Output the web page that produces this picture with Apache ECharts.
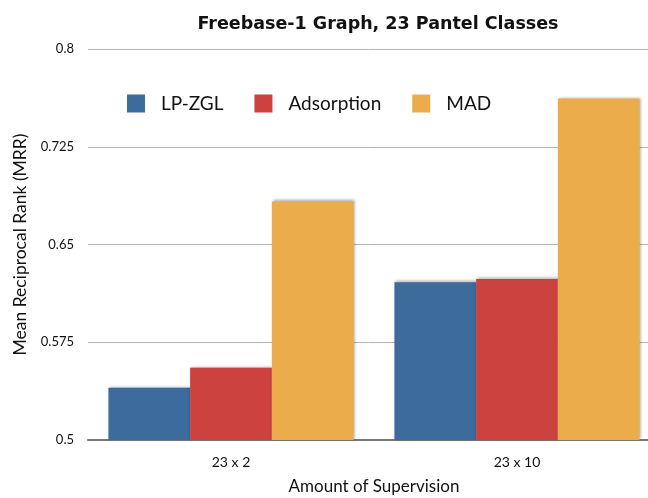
<!DOCTYPE html>
<html>
<head>
<meta charset="utf-8">
<script src="https://cdn.jsdelivr.net/npm/echarts@6/dist/echarts.min.js"></script>
<style>
html, body { margin: 0; padding: 0; background: #fff; }
#main { width: 648px; height: 498px; }
</style>
</head>
<body>
<div id="main"></div>
<script>
// 数据
var categories = ['23 x 2', '23 x 10'];
var seriesNames = ['LP-ZGL', 'Adsorption', 'MAD'];
var lpzgl = [0.540, 0.621];
var adsorption = [0.5555, 0.6235];
var mad = [0.683, 0.762];
var colors = ['#3d6b9c', '#cb423f', '#ebad4b'];

var myChart = echarts.init(document.getElementById('main'));

function barSeries(name, data, color) {
	return {
		name : name,
		type : 'bar',
		data : data,
		barGap : '0%',
		barCategoryGap : '14.3%',
		itemStyle : {
			color : color,
			shadowBlur : 3,
			shadowOffsetX : 1,
			shadowOffsetY : -1,
			shadowColor : 'rgba(0,0,0,0.35)'
		}
	};
}

myChart.setOption({
	textStyle : { fontFamily : 'Lato' },
	title : {
		text : 'Freebase-1 Graph, 23 Pantel Classes',
		left : 373,
		textAlign : 'center',
		top : 10,
		textStyle : { fontSize : 17.5, fontWeight : 'bold', color : '#111', fontFamily : 'DejaVu Sans' }
	},
	legend : {
		data : seriesNames,
		left : 127,
		top : 94,
		padding : 0,
		itemWidth : 18,
		itemHeight : 18,
		itemGap : 31,
		icon : 'rect',
		textStyle : { fontSize : 19, color : '#111', padding : [0, 0, 0, 11] }
	},
	// 图表右侧被裁切，所以网格超出画布
	grid : { left : 88, top : 49, width : 572, height : 391, outerBoundsMode : 'none' },
	xAxis : {
		type : 'category',
		data : categories,
		name : 'Amount of Supervision',
		nameLocation : 'middle',
		nameGap : 38,
		nameTextStyle : { fontSize : 17, color : '#111' },
		axisLine : { lineStyle : { color : '#777', width : 2 } },
		axisTick : { show : false },
		axisLabel : { fontSize : 14, color : '#111', margin : 15 }
	},
	yAxis : {
		type : 'value',
		min : 0.5,
		max : 0.8,
		interval : 0.075,
		name : 'Mean Reciprocal Rank (MRR)',
		nameLocation : 'middle',
		nameGap : 59,
		nameTextStyle : { fontSize : 17.5, color : '#111' },
		axisLine : { show : false },
		axisTick : { show : false },
		axisLabel : { fontSize : 13, color : '#111', margin : 14 },
		splitLine : { lineStyle : { color : '#b4b4b4', width : 1 } }
	},
	series : [
		barSeries(seriesNames[0], lpzgl, colors[0]),
		barSeries(seriesNames[1], adsorption, colors[1]),
		barSeries(seriesNames[2], mad, colors[2])
	]
});
</script>
</body>
</html>
